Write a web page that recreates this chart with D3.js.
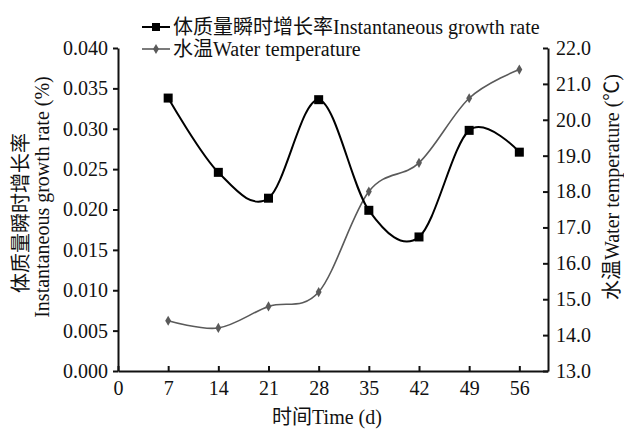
<!DOCTYPE html>
<html>
<head>
<meta charset="utf-8">
<script src="https://cdn.jsdelivr.net/npm/d3@7"></script>
<style>
  html, body { margin: 0; padding: 0; background: #fff; }
  svg text { font-family: "Liberation Serif", "Noto Sans CJK SC", serif; fill: #111; }
</style>
</head>
<body>
<div id="chart"></div>
<script>
// Instantaneous growth rate vs water temperature over time
const days = [7, 14, 21, 28, 35, 42, 49, 56];
const growthRate = [0.0338, 0.0246, 0.0214, 0.0336, 0.0199, 0.0166, 0.0298, 0.0271];
const waterTemp = [14.4, 14.2, 14.8, 15.2, 18.0, 18.8, 20.6, 21.4];
const xTicks = [0, 7, 14, 21, 28, 35, 42, 49, 56];
const leftTicks = [0, 0.005, 0.010, 0.015, 0.020, 0.025, 0.030, 0.035, 0.040];
const rightTicks = [13, 14, 15, 16, 17, 18, 19, 20, 21, 22];
const legendLabels = ['体质量瞬时增长率Instantaneous growth rate', '水温Water temperature'];

(function(){
  const w = 624, h = 429;
  const margin = {top:48, right:76, bottom:58, left:118};
  const width = w - margin.left - margin.right;
  const height = h - margin.top - margin.bottom;
  const fs = 20;

  const svg = d3.select('#chart').append('svg').attr('width', w).attr('height', h);
  const g = svg.append('g').attr('transform', `translate(${margin.left},${margin.top})`);

  const x = d3.scaleLinear().domain([0, 60]).range([0, width]);
  const yL = d3.scaleLinear().domain([0, 0.04]).range([height, 0]);
  const yR = d3.scaleLinear().domain([13, 22]).range([height, 0]);

  // axes
  const xAxis = g.append('g').attr('transform', `translate(0,${height})`)
    .call(d3.axisBottom(x).tickValues(xTicks).tickSize(-5).tickSizeOuter(0).tickPadding(10));
  const lAxis = g.append('g')
    .call(d3.axisLeft(yL).tickValues(leftTicks).tickFormat(d3.format('.3f')).tickSize(5).tickSizeOuter(0).tickPadding(5));
  const rAxis = g.append('g').attr('transform', `translate(${width},0)`)
    .call(d3.axisRight(yR).tickValues(rightTicks).tickFormat(d3.format('.1f')).tickSize(-5).tickSizeOuter(0).tickPadding(8));

  [xAxis, lAxis, rAxis].forEach(a => {
    a.select('.domain').attr('stroke', '#111').attr('stroke-width', 2);
    a.selectAll('.tick line').attr('stroke', '#111').attr('stroke-width', 2);
    a.selectAll('text').attr('font-size', fs).style('fill', '#111');
  });

  // temperature line (gray, diamonds)
  const tempLine = d3.line().x((d,i) => x(days[i])).y(d => yR(d)).curve(d3.curveCatmullRom.alpha(0));
  g.append('path').datum(waterTemp).attr('d', tempLine)
    .attr('fill', 'none').attr('stroke', '#5a5a5a').attr('stroke-width', 1.6);
  const diamond = d3.symbol().type(d3.symbolDiamond).size(30);
  g.selectAll('.tpt').data(waterTemp).enter().append('path')
    .attr('transform', (d,i) => `translate(${x(days[i])},${yR(d)})`)
    .attr('d', diamond).attr('fill', '#5a5a5a');

  // growth rate line (black, squares)
  const growthLine = d3.line().x((d,i) => x(days[i])).y(d => yL(d)).curve(d3.curveCatmullRom.alpha(0));
  g.append('path').datum(growthRate).attr('d', growthLine)
    .attr('fill', 'none').attr('stroke', '#000').attr('stroke-width', 2);
  g.selectAll('.gpt').data(growthRate).enter().append('rect')
    .attr('x', (d,i) => x(days[i]) - 4.5).attr('y', d => yL(d) - 4.5)
    .attr('width', 9).attr('height', 9).attr('fill', '#000');

  // legend
  const leg = svg.append('g').attr('transform', 'translate(142,27)');
  const l1 = leg.append('g');
  l1.append('line').attr('x1', 0).attr('x2', 28).attr('y1', 0).attr('y2', 0).attr('stroke', '#000').attr('stroke-width', 2);
  l1.append('rect').attr('x', 10).attr('y', -4).attr('width', 8).attr('height', 8).attr('fill', '#000');
  l1.append('text').attr('x', 31).attr('y', 0).attr('dy', '0.35em').attr('font-size', fs).text(legendLabels[0]);
  const l2 = leg.append('g').attr('transform', 'translate(0,22)');
  l2.append('line').attr('x1', 0).attr('x2', 28).attr('y1', 0).attr('y2', 0).attr('stroke', '#5a5a5a').attr('stroke-width', 1.6);
  l2.append('path').attr('transform', 'translate(14,0)').attr('d', diamond).attr('fill', '#5a5a5a');
  l2.append('text').attr('x', 31).attr('y', 0).attr('dy', '0.35em').attr('font-size', fs).text(legendLabels[1]);

  // axis titles
  svg.append('text').attr('x', 327).attr('y', 424).attr('text-anchor', 'middle').attr('font-size', fs).text('时间Time (d)');
  svg.append('text').attr('transform', 'translate(28,213) rotate(-90)').attr('text-anchor', 'middle').attr('font-size', fs).text('体质量瞬时增长率');
  svg.append('text').attr('transform', 'translate(49,197) rotate(-90)').attr('text-anchor', 'middle').attr('font-size', fs).text('Instantaneous growth rate (%)');
  svg.append('text').attr('transform', 'translate(619,187) rotate(-90)').attr('text-anchor', 'middle').attr('font-size', fs).text('水温Water temperature (℃)');
})();
</script>
</body>
</html>
